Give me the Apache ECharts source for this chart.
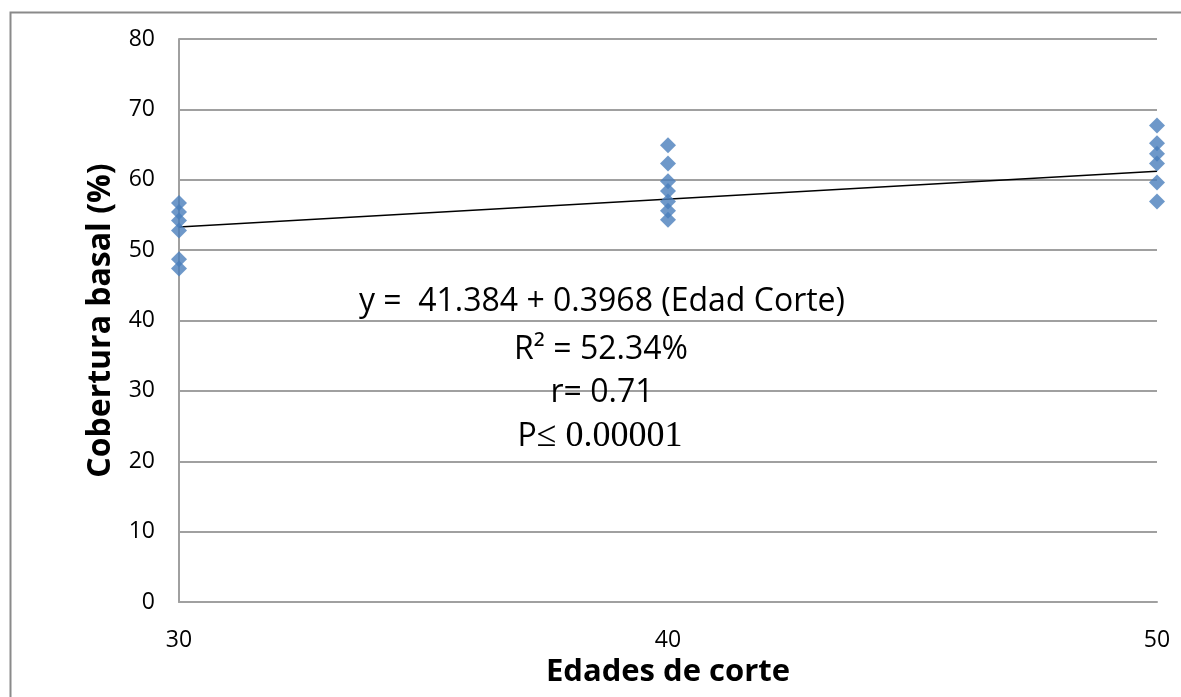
<!DOCTYPE html>
<html>
<head>
<meta charset="utf-8">
<script src="https://cdn.jsdelivr.net/npm/echarts@6/dist/echarts.min.js"></script>
<style>html,body{margin:0;padding:0;background:#fff;}#c{width:1181px;height:697px;}</style>
</head>
<body>
<div id="c"></div>
<script>
// Data
var edad30 = [56.7, 55.4, 54.2, 52.8, 48.7, 47.4];
var edad40 = [64.9, 62.3, 59.8, 58.4, 56.9, 55.6, 54.3];
var edad50 = [67.7, 65.2, 63.7, 62.3, 59.6, 56.9];
var trendX = [30, 50];
var trendY = [53.3, 61.2];
var xTicks = [30, 40, 50];
var annotLines = ['y =  41.384 + 0.3968 (Edad Corte)', 'R\u00B2 = 52.34%', 'r= 0.71'];

var pts = [];
edad30.forEach(function (v) { pts.push([30, v]); });
edad40.forEach(function (v) { pts.push([40, v]); });
edad50.forEach(function (v) { pts.push([50, v]); });

var chart = echarts.init(document.getElementById('c'));
var font = '"Open Sans", "Noto Sans", sans-serif';
chart.setOption({
  animation: false,
  grid: { left: 179, right: 24, top: 39, bottom: 95, containLabel: false, outerBoundsMode: 'none' },
  xAxis: {
    type: 'value', min: 30, max: 50, interval: 10,
    axisLine: { show: true, lineStyle: { color: '#a0a0a0', width: 2 } },
    axisTick: { show: false },
    splitLine: { show: false },
    axisLabel: { margin: 27, fontSize: 23, color: '#000', fontFamily: font },
    name: 'Edades de corte', nameLocation: 'middle', nameGap: 53,
    nameTextStyle: { fontSize: 31, fontWeight: 'bold', color: '#000', fontFamily: font }
  },
  yAxis: {
    type: 'value', min: 0, max: 80, interval: 10,
    axisLine: { show: true, lineStyle: { color: '#a0a0a0', width: 2 } },
    axisTick: { show: false },
    splitLine: { show: true, lineStyle: { color: '#a0a0a0', width: 2 } },
    axisLabel: { margin: 24, fontSize: 23, color: '#000', fontFamily: font },
    name: 'Cobertura basal (%)', nameLocation: 'middle', nameGap: 62, nameRotate: 90,
    nameTextStyle: { fontSize: 32, fontWeight: 'bold', color: '#000', fontFamily: font }
  },
  series: [
    {
      type: 'line', data: trendX.map(function (x, i) { return [x, trendY[i]]; }),
      symbol: 'none', lineStyle: { color: '#000', width: 1.5 }, z: 2
    },
    {
      type: 'scatter', data: pts, symbol: 'diamond', symbolSize: 16,
      itemStyle: { color: '#4A7EBB' }, z: 3
    }
  ],
  graphic: [
    { type: 'rect', left: 8, top: 10, silent: true, z: -1,
      shape: { width: 1300, height: 900 },
      style: { fill: 'none', stroke: '#8a8a8a', lineWidth: 2 } },
    { type: 'text', x: 602, y: 302, z: 10,
      style: { text: annotLines[0], fontSize: 32, fontFamily: font, fill: '#000', textAlign: 'center', textVerticalAlign: 'middle' } },
    { type: 'text', x: 601, y: 350, z: 10,
      style: { text: annotLines[1], fontSize: 32, fontFamily: font, fill: '#000', textAlign: 'center', textVerticalAlign: 'middle' } },
    { type: 'text', x: 602, y: 393, z: 10,
      style: { text: annotLines[2], fontSize: 32, fontFamily: font, fill: '#000', textAlign: 'center', textVerticalAlign: 'middle' } },
    { type: 'text', x: 600, y: 437, z: 10,
      style: { text: '{a|P}{b|\u2264 0.00001}', textAlign: 'center', textVerticalAlign: 'middle',
        rich: {
          a: { fontSize: 32, fontFamily: font, fill: '#000', color: '#000' },
          b: { fontSize: 36, fontFamily: '"Liberation Serif", "Times New Roman", serif', fill: '#000', color: '#000' }
        } } }
  ]
});
</script>
</body>
</html>
